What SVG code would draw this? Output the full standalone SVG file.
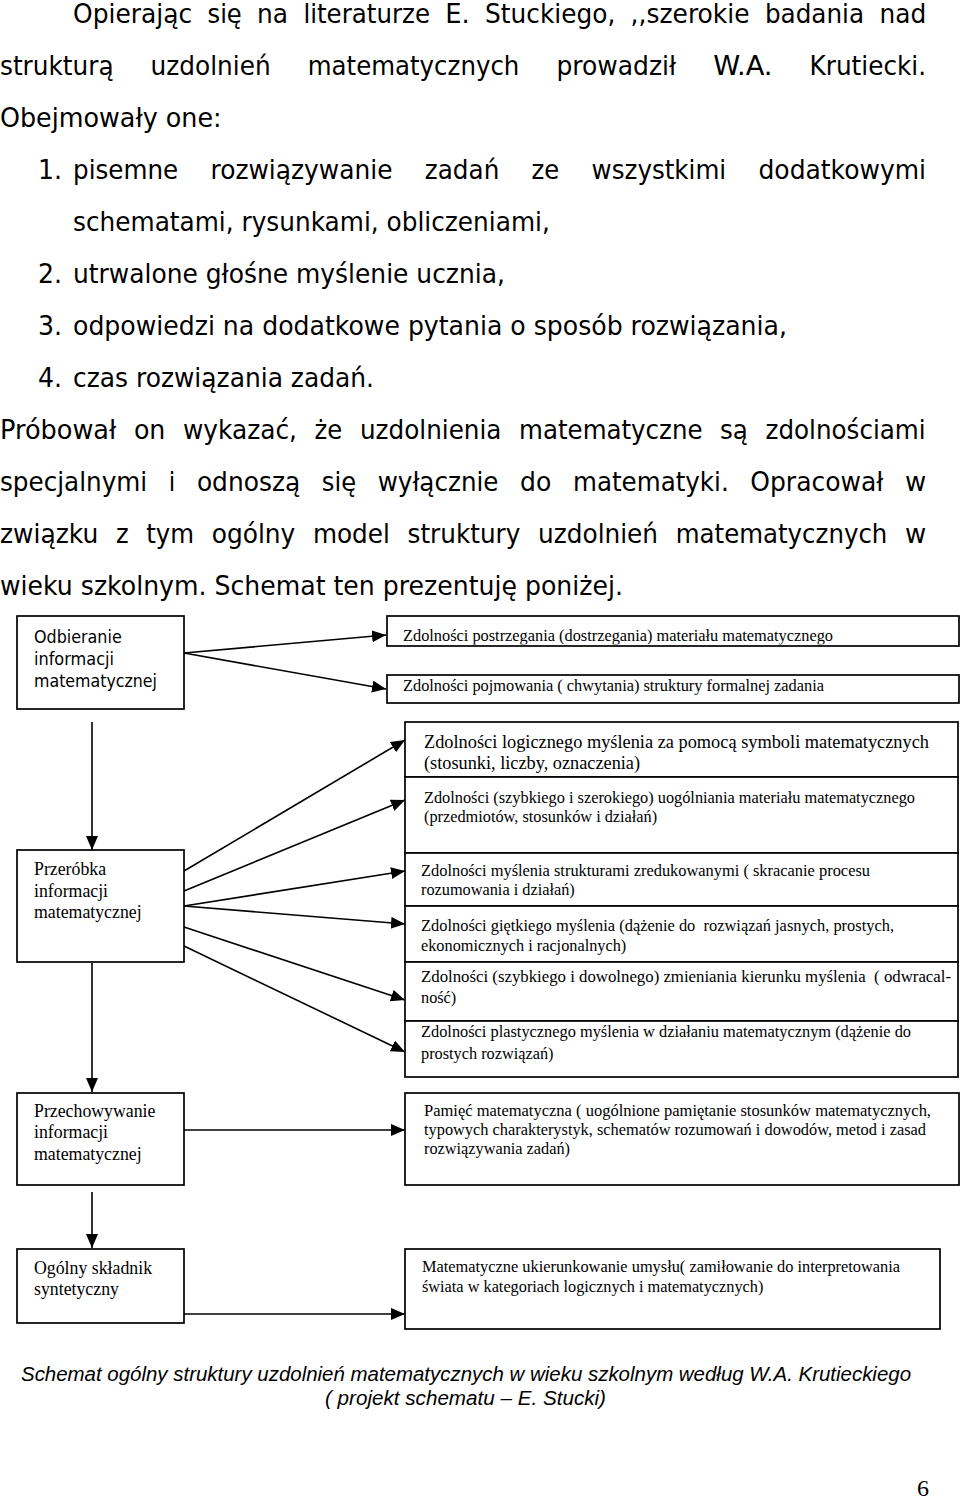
<svg xmlns="http://www.w3.org/2000/svg" width="960" height="1499" viewBox="0 0 960 1499">
<style>
.b{font-family:"DejaVu Sans","Liberation Sans",sans-serif;font-size:26.7px;fill:#000}
.cap{font-family:"Liberation Sans",Arial,sans-serif;font-size:20px;font-style:italic;fill:#000}
.ls{font-family:"DejaVu Sans","Liberation Sans",sans-serif;font-size:17.2px;fill:#000}
.lt{font-family:"Liberation Serif","Times New Roman",serif;font-size:17.8px;fill:#000}
.rt{font-family:"Liberation Serif","Times New Roman",serif;font-size:16.3px;fill:#000}
.rb{font-family:"Liberation Serif","Times New Roman",serif;font-size:18.3px;fill:#000}
.box{fill:#fff;stroke:#000;stroke-width:1.7}
.con{fill:none;stroke:#000;stroke-width:1.6}
</style>
<defs>
<marker id="ah" markerUnits="userSpaceOnUse" markerWidth="15" markerHeight="13" refX="14" refY="6" orient="auto">
<path d="M0,0 L14,6 L0,12 z" fill="#000"/>
</marker>
<clipPath id="c1"><rect x="387" y="616" width="572" height="28.5"/></clipPath>
<clipPath id="c3"><rect x="405" y="722" width="553" height="51"/></clipPath>
</defs>
<rect width="960" height="1499" fill="#fff"/>

<g id="body-text" class="b">
<text x="73" y="23" textLength="119.2" lengthAdjust="spacingAndGlyphs">Opierając</text>
<text x="207.5" y="23" textLength="34.3" lengthAdjust="spacingAndGlyphs">się</text>
<text x="257.1" y="23" textLength="31" lengthAdjust="spacingAndGlyphs">na</text>
<text x="303.4" y="23" textLength="126.6" lengthAdjust="spacingAndGlyphs">literaturze</text>
<text x="445.3" y="23" textLength="24.5" lengthAdjust="spacingAndGlyphs">E.</text>
<text x="485.1" y="23" textLength="130.2" lengthAdjust="spacingAndGlyphs">Stuckiego,</text>
<text x="630.6" y="23" textLength="119" lengthAdjust="spacingAndGlyphs">,,szerokie</text>
<text x="764.9" y="23" textLength="99.2" lengthAdjust="spacingAndGlyphs">badania</text>
<text x="879.4" y="23" textLength="46.8" lengthAdjust="spacingAndGlyphs">nad</text>

<text x="0" y="75" textLength="113.6" lengthAdjust="spacingAndGlyphs">strukturą</text>
<text x="150.6" y="75" textLength="120.1" lengthAdjust="spacingAndGlyphs">uzdolnień</text>
<text x="307.7" y="75" textLength="211.7" lengthAdjust="spacingAndGlyphs">matematycznych</text>
<text x="556.4" y="75" textLength="119.8" lengthAdjust="spacingAndGlyphs">prowadził</text>
<text x="713.2" y="75" textLength="59.3" lengthAdjust="spacingAndGlyphs">W.A.</text>
<text x="809.5" y="75" textLength="116.6" lengthAdjust="spacingAndGlyphs">Krutiecki.</text>

<text x="0" y="127" textLength="221.6" lengthAdjust="spacingAndGlyphs">Obejmowały one:</text>

<text x="38" y="179" textLength="24" lengthAdjust="spacingAndGlyphs">1.</text>
<text x="73" y="179" textLength="105.2" lengthAdjust="spacingAndGlyphs">pisemne</text>
<text x="210.5" y="179" textLength="182" lengthAdjust="spacingAndGlyphs">rozwiązywanie</text>
<text x="424.8" y="179" textLength="74.5" lengthAdjust="spacingAndGlyphs">zadań</text>
<text x="531.6" y="179" textLength="27.7" lengthAdjust="spacingAndGlyphs">ze</text>
<text x="591.6" y="179" textLength="134.6" lengthAdjust="spacingAndGlyphs">wszystkimi</text>
<text x="758.5" y="179" textLength="167.5" lengthAdjust="spacingAndGlyphs">dodatkowymi</text>

<text x="73" y="231" textLength="476.8" lengthAdjust="spacingAndGlyphs">schematami, rysunkami, obliczeniami,</text>

<text x="38" y="283" textLength="24" lengthAdjust="spacingAndGlyphs">2.</text>
<text x="73" y="283" textLength="431.9" lengthAdjust="spacingAndGlyphs">utrwalone głośne myślenie ucznia,</text>

<text x="38" y="335" textLength="24" lengthAdjust="spacingAndGlyphs">3.</text>
<text x="73" y="335" textLength="713.9" lengthAdjust="spacingAndGlyphs">odpowiedzi na dodatkowe pytania o sposób rozwiązania,</text>

<text x="38" y="387" textLength="24" lengthAdjust="spacingAndGlyphs">4.</text>
<text x="73" y="387" textLength="301" lengthAdjust="spacingAndGlyphs">czas rozwiązania zadań.</text>

<text x="0" y="439" textLength="116.3" lengthAdjust="spacingAndGlyphs">Próbował</text>
<text x="133.9" y="439" textLength="31.5" lengthAdjust="spacingAndGlyphs">on</text>
<text x="183" y="439" textLength="114" lengthAdjust="spacingAndGlyphs">wykazać,</text>
<text x="314.6" y="439" textLength="27.7" lengthAdjust="spacingAndGlyphs">że</text>
<text x="359.9" y="439" textLength="141.6" lengthAdjust="spacingAndGlyphs">uzdolnienia</text>
<text x="519.1" y="439" textLength="183.4" lengthAdjust="spacingAndGlyphs">matematyczne</text>
<text x="720.1" y="439" textLength="27.8" lengthAdjust="spacingAndGlyphs">są</text>
<text x="765.5" y="439" textLength="160.2" lengthAdjust="spacingAndGlyphs">zdolnościami</text>

<text x="0" y="491" textLength="147.2" lengthAdjust="spacingAndGlyphs">specjalnymi</text>
<text x="168.8" y="491" textLength="6.5" lengthAdjust="spacingAndGlyphs">i</text>
<text x="196.9" y="491" textLength="103.3" lengthAdjust="spacingAndGlyphs">odnoszą</text>
<text x="321.8" y="491" textLength="34.3" lengthAdjust="spacingAndGlyphs">się</text>
<text x="377.7" y="491" textLength="120.8" lengthAdjust="spacingAndGlyphs">wyłącznie</text>
<text x="520.1" y="491" textLength="31.3" lengthAdjust="spacingAndGlyphs">do</text>
<text x="573" y="491" textLength="155.7" lengthAdjust="spacingAndGlyphs">matematyki.</text>
<text x="750.3" y="491" textLength="133.1" lengthAdjust="spacingAndGlyphs">Opracował</text>
<text x="905" y="491" textLength="21.2" lengthAdjust="spacingAndGlyphs">w</text>

<text x="0" y="543" textLength="98.4" lengthAdjust="spacingAndGlyphs">związku</text>
<text x="116" y="543" textLength="12.7" lengthAdjust="spacingAndGlyphs">z</text>
<text x="146.3" y="543" textLength="47.8" lengthAdjust="spacingAndGlyphs">tym</text>
<text x="211.7" y="543" textLength="83.6" lengthAdjust="spacingAndGlyphs">ogólny</text>
<text x="312.9" y="543" textLength="77" lengthAdjust="spacingAndGlyphs">model</text>
<text x="407.5" y="543" textLength="112.9" lengthAdjust="spacingAndGlyphs">struktury</text>
<text x="538" y="543" textLength="120.1" lengthAdjust="spacingAndGlyphs">uzdolnień</text>
<text x="675.7" y="543" textLength="211.7" lengthAdjust="spacingAndGlyphs">matematycznych</text>
<text x="905" y="543" textLength="21.2" lengthAdjust="spacingAndGlyphs">w</text>

<text x="0" y="595" textLength="622.9" lengthAdjust="spacingAndGlyphs">wieku szkolnym. Schemat ten prezentuję poniżej.</text>
</g>

<g id="connectors" class="con">
<line x1="184" y1="653" x2="386" y2="635" marker-end="url(#ah)"/>
<line x1="184" y1="653" x2="386" y2="689" marker-end="url(#ah)"/>
<line x1="92" y1="722" x2="92" y2="850" marker-end="url(#ah)"/>
<line x1="184" y1="871" x2="405" y2="740" marker-end="url(#ah)"/>
<line x1="184" y1="891" x2="405" y2="800" marker-end="url(#ah)"/>
<line x1="184" y1="906" x2="405" y2="871" marker-end="url(#ah)"/>
<line x1="184" y1="906" x2="405" y2="924" marker-end="url(#ah)"/>
<line x1="184" y1="927" x2="405" y2="1000" marker-end="url(#ah)"/>
<line x1="184" y1="946" x2="405" y2="1052" marker-end="url(#ah)"/>
<line x1="92" y1="963" x2="92" y2="1092" marker-end="url(#ah)"/>
<line x1="184" y1="1130" x2="405" y2="1130" marker-end="url(#ah)"/>
<line x1="92" y1="1192" x2="92" y2="1248" marker-end="url(#ah)"/>
<line x1="184" y1="1314" x2="405" y2="1314" marker-end="url(#ah)"/>
</g>

<g id="node-odbieranie">
<rect class="box" x="17" y="616" width="167" height="93"/>
<text class="ls" x="34" y="643" textLength="87.7" lengthAdjust="spacingAndGlyphs">Odbieranie</text>
<text class="ls" x="34" y="665" textLength="80" lengthAdjust="spacingAndGlyphs">informacji</text>
<text class="ls" x="34" y="687" textLength="123" lengthAdjust="spacingAndGlyphs">matematycznej</text>
</g>

<g id="node-przerobka">
<rect class="box" x="17" y="850" width="167" height="112"/>
<text class="lt" x="34" y="875">Przeróbka</text>
<text class="lt" x="34" y="897">informacji</text>
<text class="lt" x="34" y="918">matematycznej</text>
</g>

<g id="node-przechowywanie">
<rect class="box" x="17" y="1093" width="167" height="92"/>
<text class="lt" x="34" y="1117">Przechowywanie</text>
<text class="lt" x="34" y="1138">informacji</text>
<text class="lt" x="34" y="1160">matematycznej</text>
</g>

<g id="node-ogolny">
<rect class="box" x="17" y="1249" width="167" height="74"/>
<text class="lt" x="34" y="1274">Ogólny składnik</text>
<text class="lt" x="34" y="1295">syntetyczny</text>
</g>

<g id="node-postrzegania">
<rect class="box" x="387" y="616" width="572" height="30"/>
<text class="rt" x="403" y="641" textLength="430" lengthAdjust="spacingAndGlyphs" clip-path="url(#c1)">Zdolności postrzegania (dostrzegania) materiału matematycznego</text>
</g>

<g id="node-pojmowania">
<rect class="box" x="387" y="675" width="572" height="28"/>
<text class="rt" x="403" y="691" textLength="421" lengthAdjust="spacingAndGlyphs">Zdolności pojmowania ( chwytania) struktury formalnej zadania</text>
</g>

<g id="node-logicznego">
<rect class="box" x="405" y="722" width="553" height="55"/>
<g clip-path="url(#c3)">
<text class="rb" x="424" y="748" textLength="505" lengthAdjust="spacingAndGlyphs">Zdolności logicznego myślenia za pomocą symboli matematycznych</text>
<text class="rb" x="424" y="769">(stosunki, liczby, oznaczenia)</text>
</g>
</g>

<g id="node-uogolniania">
<rect class="box" x="405" y="777" width="553" height="76"/>
<text class="rt" x="424" y="803" textLength="491" lengthAdjust="spacingAndGlyphs">Zdolności (szybkiego i szerokiego) uogólniania materiału matematycznego</text>
<text class="rt" x="424" y="822">(przedmiotów, stosunków i działań)</text>
</g>

<g id="node-zredukowane">
<rect class="box" x="405" y="853" width="553" height="53"/>
<text class="rt" x="421" y="876" textLength="449" lengthAdjust="spacingAndGlyphs">Zdolności myślenia strukturami zredukowanymi ( skracanie procesu</text>
<text class="rt" x="421" y="895">rozumowania i działań)</text>
</g>

<g id="node-gietkiego">
<rect class="box" x="405" y="906" width="553" height="56"/>
<text class="rt" x="421" y="931" textLength="473" lengthAdjust="spacingAndGlyphs" xml:space="preserve">Zdolności giętkiego myślenia (dążenie do  rozwiązań jasnych, prostych,</text>
<text class="rt" x="421" y="951">ekonomicznych i racjonalnych)</text>
</g>

<g id="node-odwracalnosc">
<rect class="box" x="405" y="962" width="553" height="59"/>
<text class="rt" x="421" y="982" textLength="530" lengthAdjust="spacingAndGlyphs" xml:space="preserve">Zdolności (szybkiego i dowolnego) zmieniania kierunku myślenia  ( odwracal-</text>
<text class="rt" x="421" y="1003">ność)</text>
</g>

<g id="node-plastycznego">
<rect class="box" x="405" y="1021" width="553" height="56"/>
<text class="rt" x="421" y="1037" textLength="490" lengthAdjust="spacingAndGlyphs">Zdolności plastycznego myślenia w działaniu matematycznym (dążenie do</text>
<text class="rt" x="421" y="1059">prostych rozwiązań)</text>
</g>

<g id="node-pamiec">
<rect class="box" x="405" y="1093" width="554" height="92"/>
<text class="rt" x="424" y="1116" textLength="507" lengthAdjust="spacingAndGlyphs">Pamięć matematyczna ( uogólnione pamiętanie stosunków matematycznych,</text>
<text class="rt" x="424" y="1135" textLength="502" lengthAdjust="spacingAndGlyphs">typowych charakterystyk, schematów rozumowań i dowodów, metod i zasad</text>
<text class="rt" x="424" y="1154">rozwiązywania zadań)</text>
</g>

<g id="node-ukierunkowanie">
<rect class="box" x="405" y="1249" width="535" height="80"/>
<text class="rt" x="422" y="1272" textLength="478" lengthAdjust="spacingAndGlyphs">Matematyczne ukierunkowanie umysłu( zamiłowanie do interpretowania</text>
<text class="rt" x="422" y="1292">świata w kategoriach logicznych i matematycznych)</text>
</g>

<g id="caption">
<text class="cap" x="21" y="1381" textLength="890" lengthAdjust="spacingAndGlyphs">Schemat ogólny struktury uzdolnień matematycznych w wieku szkolnym według W.A. Krutieckiego</text>
<text class="cap" x="325" y="1405" textLength="281" lengthAdjust="spacingAndGlyphs">( projekt schematu – E. Stucki)</text>
</g>
<text x="917" y="1496" font-family="Liberation Serif, Times New Roman, serif" font-size="24" fill="#000">6</text>
</svg>
